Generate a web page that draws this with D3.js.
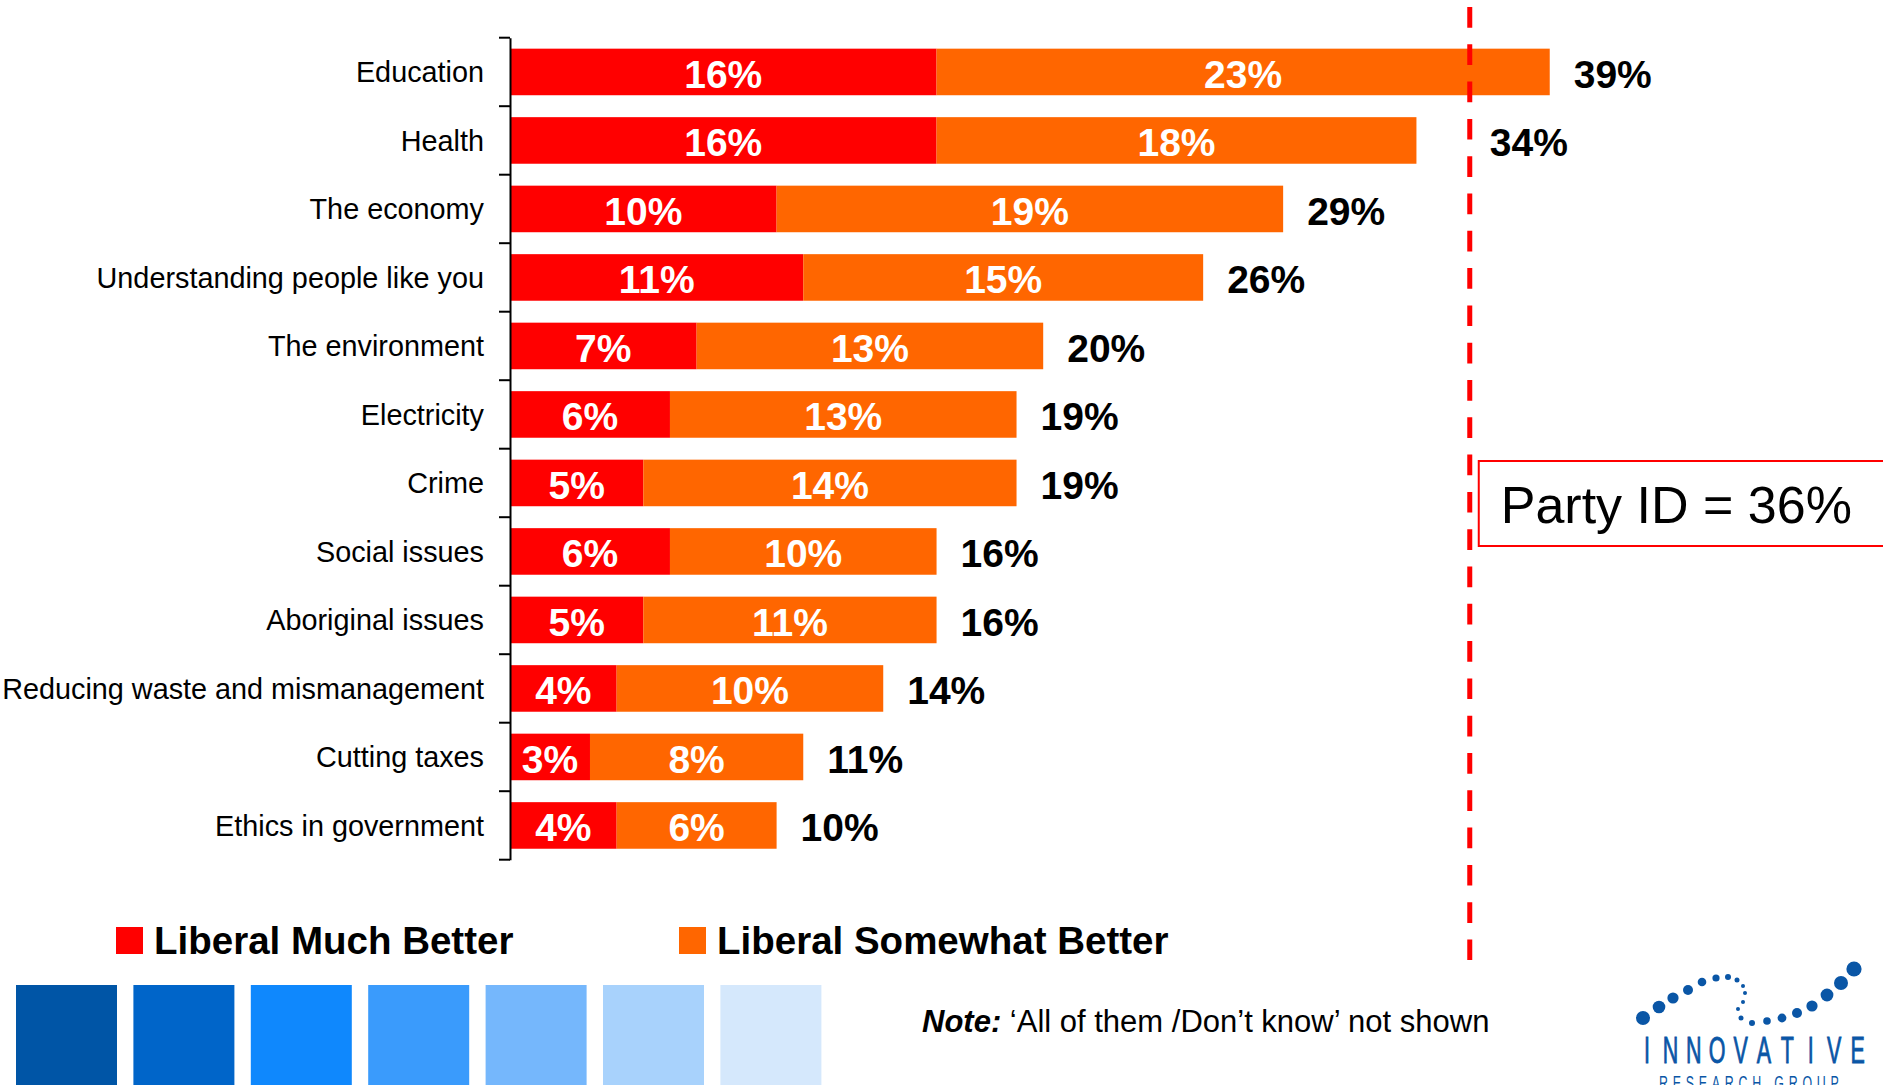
<!DOCTYPE html>
<html><head><meta charset="utf-8">
<script src="https://cdn.jsdelivr.net/npm/d3@7"></script>
<style>html,body{margin:0;padding:0;background:#fff;overflow:hidden}</style>
</head><body><svg id="c" width="1883" height="1085"></svg>
<script>
// ---------- data ----------
const categories = ["Education","Health","The economy","Understanding people like you","The environment","Electricity","Crime","Social issues","Aboriginal issues","Reducing waste and mismanagement","Cutting taxes","Ethics in government"];
const muchBetter     = [16,16,10,11,7,6,5,6,5,4,3,4];
const somewhatBetter = [23,18,19,15,13,13,14,10,11,10,8,6];
const totals         = [39,34,29,26,20,19,19,16,16,14,11,10];
const seriesNames = ["Liberal Much Better","Liberal Somewhat Better"];
const partyId = 36;
const partyLabel = "Party ID = 36%";
const noteBold = "Note:";
const noteText = "\u2018All of them /Don\u2019t know\u2019 not shown";
const swatchColors = ["#0055A6","#0065C9","#0F88FD","#3A9BFC","#75B7FC","#A8D2FC","#D5E8FC"];
const logoName = "INNOVATIVE";
const logoSub = "RESEARCH GROUP";

// ---------- layout ----------
const FONT = "'Liberation Sans', Arial, Helvetica, sans-serif";
const svg = d3.select("#c").style("font-family", FONT);
const color = d3.scaleOrdinal().domain(seriesNames).range(["#FF0000","#FF6600"]);
const x = d3.scaleLinear().domain([0, 40]).range([510, 510 + 40 * 26.66]);
const y = d3.scaleBand().domain(categories).range([37.7, 859.7]).paddingInner(0.32).paddingOuter(0.16);

const rows = categories.map((c, i) => ({cat: c, a: muchBetter[i], b: somewhatBetter[i], t: totals[i]}));
const stack = d3.stack().keys(["a","b"])(rows);

// bars
const g = svg.append("g");
stack.forEach((layer, li) => {
  g.append("g").attr("fill", color(seriesNames[li]))
    .selectAll("rect").data(layer).join("rect")
    .attr("x", d => x(d[0]))
    .attr("y", d => y(d.data.cat))
    .attr("width", d => x(d[1]) - x(d[0]))
    .attr("height", y.bandwidth());
  g.append("g").attr("fill", "#fff").attr("font-weight", "bold").attr("font-size", 39)
    .attr("text-anchor", "middle")
    .selectAll("text").data(layer).join("text")
    .attr("x", d => (x(d[0]) + x(d[1])) / 2)
    .attr("y", d => y(d.data.cat) + y.bandwidth() / 2 + 16)
    .text(d => (d[1] - d[0]) + "%");
});

// axis
const axis = d3.axisLeft(y).tickSize(0).tickSizeOuter(0).tickPadding(26);
const ax = svg.append("g").attr("transform", `translate(${x(0)},0)`).call(axis);
ax.select(".domain").attr("stroke", "#000").attr("stroke-width", 2);
ax.selectAll(".tick text").attr("font-size", 28.8).attr("fill", "#000").attr("font-family", FONT).attr("dy", "0.35em");
const step = y.step();
const bounds = d3.range(categories.length + 1).map(i => y.range()[0] + i * step);
ax.selectAll("line.bound").data(bounds).join("line").attr("class", "bound")
  .attr("x1", -11).attr("x2", 0).attr("y1", d => d).attr("y2", d => d)
  .attr("stroke", "#000").attr("stroke-width", 2);

// reference line
const lx = x(partyId);
svg.append("line").attr("x1", lx).attr("x2", lx).attr("y1", 7).attr("y2", 960)
  .attr("stroke", "#FF0000").attr("stroke-width", 5).attr("stroke-dasharray", "20.7 16.6");

// totals
svg.append("g").attr("font-weight", "bold").attr("font-size", 39).attr("fill", "#000")
  .selectAll("text").data(rows).join("text")
  .attr("x", d => {
    let px = x(d.t) + 24;
    if (px < lx + 6 && px + 80 > lx - 6) px = lx + 20;
    return px;
  })
  .attr("y", d => y(d.cat) + y.bandwidth() / 2 + 16)
  .text(d => d.t + "%");

// party ID box
svg.append("rect").attr("x", lx + 9).attr("y", 461).attr("width", 500).attr("height", 85)
  .attr("fill", "#fff").attr("stroke", "#FF0000").attr("stroke-width", 2);
svg.append("text").attr("x", lx + 31).attr("y", 523).attr("font-size", 52).attr("fill", "#000")
  .text(partyLabel);

// legend
const legX = [116, 679];
const leg = svg.append("g").selectAll("g").data(seriesNames).join("g")
  .attr("transform", (d, i) => `translate(${legX[i]},927)`);
leg.append("rect").attr("width", 27).attr("height", 27).attr("fill", d => color(d));
leg.append("text").attr("x", 38).attr("y", 27).attr("font-size", 38.5).attr("font-weight", "bold")
  .attr("fill", "#000").text(d => d);

// swatches
svg.append("g").selectAll("rect").data(swatchColors).join("rect")
  .attr("x", (d, i) => 16 + i * 117.4).attr("y", 985).attr("width", 101).attr("height", 110)
  .attr("fill", d => d);

// note
const note = svg.append("text").attr("x", 922).attr("y", 1032).attr("font-size", 31).attr("fill", "#000");
note.append("tspan").attr("font-weight", "bold").attr("font-style", "italic").text(noteBold + " ");
note.append("tspan").text(noteText);

// logo (decoration)
const logoDots = [[1643,1018,7],[1659,1007,6.3],[1673,998,5.6],[1688,990,5],[1702,982,4.3],[1716,978,3.6],[1728,977,3],[1737,980,2.5],[1743,986,2],[1745,993,2],[1743,1002,2],[1738,1009,2],[1741,1018,2.5],[1752,1023,3],[1767,1021,3.8],[1782,1018,4.4],[1797,1013,5],[1812,1006,5.6],[1827,995,6.4],[1841,983,7],[1854,969,7.6]];
const logo = svg.append("g").attr("fill", "#0A56A6");
logo.selectAll("circle").data(logoDots).join("circle")
  .attr("cx", d => d[0]).attr("cy", d => d[1]).attr("r", d => d[2]);
const nameLetters = logoName.split("");
logo.append("g").attr("stroke", "#0A56A6").attr("stroke-width", 0.9)
  .selectAll("text").data(nameLetters).join("text")
  .attr("transform", (d, i) => `translate(${1647 + i * 23.4},1063) scale(0.58,1)`)
  .attr("text-anchor", "middle").attr("font-size", 37).text(d => d);
logo.append("text").attr("transform", "translate(1659,1090) scale(0.62,1)")
  .attr("font-size", 20).attr("textLength", 290).attr("lengthAdjust", "spacing").text(logoSub);
</script></body></html>
